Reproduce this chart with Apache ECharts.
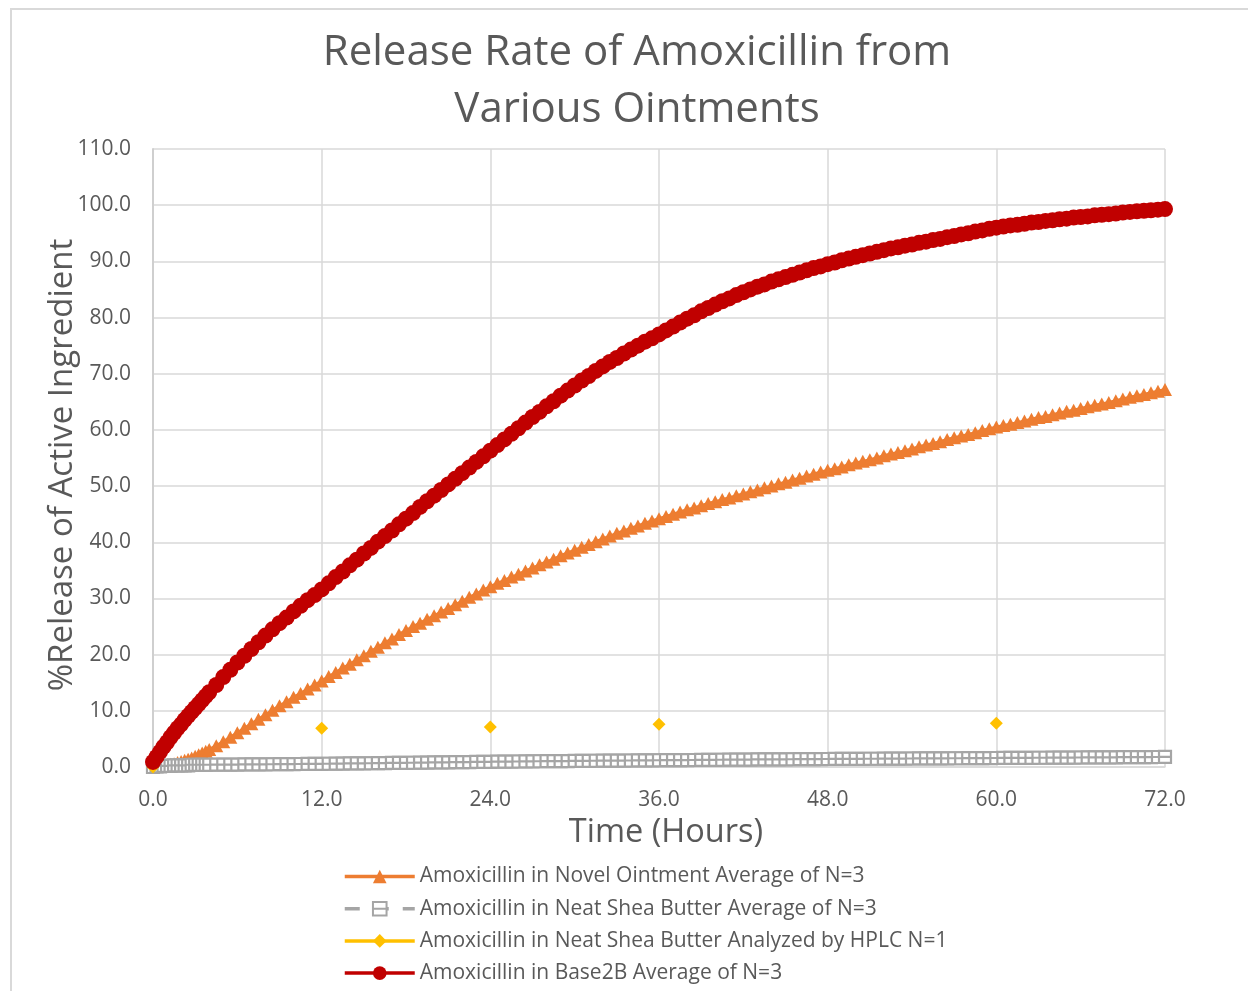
<!DOCTYPE html>
<html>
<head>
<meta charset="utf-8">
<title>Release Rate of Amoxicillin from Various Ointments</title>
<script src="https://cdn.jsdelivr.net/npm/echarts@6/dist/echarts.min.js"></script>
<style>
  html, body { margin: 0; padding: 0; background: #fff; }
  #chart { width: 1248px; height: 991px; }
</style>
</head>
<body>
<div id="chart"></div>
<script>
// Sampling times (hours): every 15 min for the first 4 h, then every 30 min
const hours = [
  0, 0.25, 0.5, 0.75, 1, 1.25, 1.5, 1.75, 2, 2.25, 2.5, 2.75, 3, 3.25, 3.5, 3.75, 4,
  4.5, 5, 5.5, 6, 6.5, 7, 7.5, 8, 8.5, 9, 9.5, 10, 10.5, 11, 11.5, 12,
  12.5, 13, 13.5, 14, 14.5, 15, 15.5, 16, 16.5, 17, 17.5, 18, 18.5, 19, 19.5, 20,
  20.5, 21, 21.5, 22, 22.5, 23, 23.5, 24,
  24.5, 25, 25.5, 26, 26.5, 27, 27.5, 28, 28.5, 29, 29.5, 30, 30.5, 31, 31.5, 32,
  32.5, 33, 33.5, 34, 34.5, 35, 35.5, 36,
  36.5, 37, 37.5, 38, 38.5, 39, 39.5, 40, 40.5, 41, 41.5, 42, 42.5, 43, 43.5, 44,
  44.5, 45, 45.5, 46, 46.5, 47, 47.5, 48,
  48.5, 49, 49.5, 50, 50.5, 51, 51.5, 52, 52.5, 53, 53.5, 54, 54.5, 55, 55.5, 56,
  56.5, 57, 57.5, 58, 58.5, 59, 59.5, 60,
  60.5, 61, 61.5, 62, 62.5, 63, 63.5, 64, 64.5, 65, 65.5, 66, 66.5, 67, 67.5, 68,
  68.5, 69, 69.5, 70, 70.5, 71, 71.5, 72
];

// % released, Novel Ointment (average of N=3)
const novelOintment = [
  0.0, 0.1, 0.2, 0.3, 0.4, 0.5, 0.6, 0.8, 1.0, 1.2, 1.4, 1.6, 1.9, 2.2, 2.5, 2.8, 3.1,
  3.8, 4.5, 5.3, 6.1, 6.9, 7.7, 8.5, 9.3, 10.1, 10.9, 11.6, 12.4, 13.1, 13.9, 14.6, 15.3,
  16.1, 16.8, 17.6, 18.3, 19.1, 19.8, 20.6, 21.3, 22.1, 22.8, 23.6, 24.3, 25.0, 25.6, 26.3, 26.9,
  27.6, 28.2, 28.9, 29.5, 30.2, 30.8, 31.5, 32.1,
  32.7, 33.2, 33.8, 34.3, 34.9, 35.4, 36.0, 36.5, 37.0, 37.6, 38.1, 38.6, 39.1, 39.6, 40.1, 40.6,
  41.1, 41.6, 42.0, 42.5, 42.9, 43.4, 43.8, 44.2,
  44.6, 45.0, 45.4, 45.8, 46.1, 46.5, 46.9, 47.2, 47.6, 47.9, 48.3, 48.6, 49.0, 49.3, 49.7, 50.0,
  50.4, 50.7, 51.1, 51.4, 51.8, 52.1, 52.5, 52.8,
  53.1, 53.4, 53.8, 54.1, 54.4, 54.7, 55.0, 55.4, 55.7, 56.0, 56.3, 56.6, 57.0, 57.3, 57.6, 57.9,
  58.3, 58.6, 58.9, 59.2, 59.5, 59.9, 60.2, 60.5,
  60.8, 61.0, 61.3, 61.6, 61.9, 62.2, 62.4, 62.7, 63.0, 63.3, 63.5, 63.8, 64.1, 64.4, 64.6, 64.9,
  65.2, 65.5, 65.8, 66.1, 66.3, 66.6, 66.9, 67.2
];

// % released, Neat Shea Butter (average of N=3)
const sheaButter = [
  0.0, 0.1, 0.1, 0.2, 0.2, 0.2, 0.3, 0.3, 0.3, 0.3, 0.3, 0.4, 0.4, 0.4, 0.4, 0.4, 0.4,
  0.41, 0.42, 0.43, 0.44, 0.45, 0.46, 0.47, 0.48, 0.49, 0.50, 0.51, 0.52, 0.53, 0.54, 0.55, 0.56,
  0.58, 0.60, 0.61, 0.63, 0.64, 0.66, 0.67, 0.69, 0.70, 0.72, 0.73, 0.75, 0.76, 0.78, 0.79, 0.81,
  0.82, 0.84, 0.85, 0.87, 0.88, 0.90, 0.91, 0.93,
  0.94, 0.95, 0.97, 0.98, 0.99, 1.00, 1.02, 1.03, 1.04, 1.05, 1.06, 1.08, 1.09, 1.10, 1.11, 1.12,
  1.13, 1.14, 1.15, 1.16, 1.17, 1.18, 1.19, 1.20,
  1.21, 1.22, 1.23, 1.24, 1.25, 1.26, 1.27, 1.28, 1.29, 1.30, 1.31, 1.32, 1.33, 1.34, 1.35, 1.35,
  1.36, 1.37, 1.38, 1.39, 1.40, 1.40, 1.41, 1.42,
  1.43, 1.44, 1.44, 1.45, 1.46, 1.47, 1.47, 1.48, 1.49, 1.50, 1.50, 1.51, 1.52, 1.53, 1.53, 1.54,
  1.55, 1.56, 1.56, 1.57, 1.58, 1.59, 1.59, 1.60,
  1.61, 1.62, 1.62, 1.63, 1.64, 1.65, 1.65, 1.66, 1.67, 1.68, 1.68, 1.69, 1.70, 1.71, 1.71, 1.72,
  1.73, 1.74, 1.74, 1.75, 1.76, 1.77, 1.78, 1.79
];

// % released, Base2B (average of N=3)
const base2B = [
  0.9, 1.8, 2.7, 3.6, 4.4, 5.3, 6.1, 6.9, 7.6, 8.4, 9.1, 9.8, 10.5, 11.2, 11.9, 12.6, 13.3,
  14.6, 16.0, 17.3, 18.6, 19.8, 21.0, 22.2, 23.4, 24.5, 25.6, 26.6, 27.7, 28.7, 29.7, 30.6, 31.6,
  32.7, 33.8, 34.8, 35.9, 36.9, 38.0, 39.0, 40.1, 41.1, 42.1, 43.2, 44.2, 45.2, 46.3, 47.3, 48.3,
  49.3, 50.3, 51.3, 52.3, 53.3, 54.3, 55.3, 56.3,
  57.3, 58.3, 59.3, 60.3, 61.3, 62.3, 63.2, 64.2, 65.1, 66.1, 67.0, 67.9, 68.8, 69.6, 70.5, 71.3,
  72.1, 72.8, 73.6, 74.3, 75.0, 75.7, 76.3, 77.0,
  77.7, 78.4, 79.1, 79.8, 80.4, 81.1, 81.7, 82.3, 82.9, 83.4, 84.0, 84.5, 85.0, 85.5, 85.9, 86.4,
  86.8, 87.2, 87.6, 88.0, 88.4, 88.8, 89.1, 89.5,
  89.8, 90.2, 90.5, 90.8, 91.1, 91.4, 91.7, 92.0, 92.3, 92.5, 92.8, 93.0, 93.3, 93.5, 93.8, 94.0,
  94.3, 94.5, 94.8, 95.0, 95.3, 95.5, 95.8, 96.0,
  96.2, 96.4, 96.5, 96.7, 96.9, 97.0, 97.2, 97.3, 97.5, 97.6, 97.8, 97.9, 98.0, 98.2, 98.3, 98.4,
  98.5, 98.7, 98.8, 98.9, 99.0, 99.1, 99.2, 99.3
];

// Neat Shea Butter checked by HPLC (N=1), sparse sampling
const hplcHours = [0, 12, 24, 36, 60];
const hplcValues = [0.0, 6.9, 7.1, 7.6, 7.8];

// Axis ticks
const xTicks = { min: 0, max: 72, step: 12 };
const yTicks = { min: 0, max: 110, step: 10 };

const seriesNames = [
  'Amoxicillin in Novel Ointment Average of N=3',
  'Amoxicillin in Neat Shea Butter Average of N=3',
  'Amoxicillin in Neat Shea Butter Analyzed by HPLC N=1',
  'Amoxicillin in Base2B Average of N=3'
];

const FONT = '"Open Sans", Lato, sans-serif';
const TEXT = '#595959';
const GRID = '#d9d9d9';

const pairs = (xs, ys) => xs.map((x, i) => [x, ys[i]]);

// HPLC readings are isolated points: break the line between them
const hplcData = [];
hplcHours.forEach((h, i) => {
  if (i > 0) hplcData.push([h, null]);
  hplcData.push([h, hplcValues[i]]);
});

// hollow square crossed by a bar
const squareWithBar = 'path://M0,0L10,0L10,10L0,10Z M0,5L10,5';

const chart = echarts.init(document.getElementById('chart'), null, { renderer: 'canvas' });

chart.setOption({
  animation: false,
  backgroundColor: '#ffffff',
  textStyle: { fontFamily: FONT, color: TEXT },
  title: {
    text: 'Release Rate of Amoxicillin from\nVarious Ointments',
    left: 632,
    top: 20,
    textAlign: 'center',
    textStyle: {
      fontFamily: FONT,
      fontSize: 42,
      fontWeight: 'normal',
      color: TEXT,
      lineHeight: 57
    }
  },
  graphic: [{
    type: 'rect',
    shape: { x: 11, y: 9, width: 1260, height: 1010 },
    style: { fill: 'none', stroke: GRID, lineWidth: 2 },
    silent: true,
    z: -1
  }],
  grid: { left: 153, top: 149, width: 1012, height: 618 },
  legend: {
    orient: 'vertical',
    left: 338,
    top: 861,
    itemWidth: 70,
    itemHeight: 17,
    itemGap: 11.2,
    lineStyle: { width: 3.5 },
    textStyle: { fontFamily: FONT, fontSize: 21, color: TEXT },
    data: seriesNames
  },
  xAxis: {
    type: 'value',
    min: xTicks.min,
    max: xTicks.max,
    interval: xTicks.step,
    name: 'Time (Hours)',
    nameLocation: 'middle',
    nameGap: 48,
    nameTextStyle: { fontFamily: FONT, fontSize: 32.5, color: TEXT, padding: [0, 0, 0, 14] },
    axisLine: { show: true, lineStyle: { color: GRID, width: 1.5 } },
    axisTick: { show: false },
    axisLabel: {
      margin: 23,
      fontFamily: FONT, fontSize: 21, color: TEXT,
      formatter: v => v.toFixed(1)
    },
    splitLine: { show: true, lineStyle: { color: GRID, width: 1.5 } }
  },
  yAxis: {
    type: 'value',
    min: yTicks.min,
    max: yTicks.max,
    interval: yTicks.step,
    name: '%Release of Active Ingredient',
    nameLocation: 'middle',
    nameGap: 74,
    nameMoveOverlap: false,
    nameTextStyle: { fontFamily: FONT, fontSize: 33, color: TEXT, padding: [0, 14, 0, 0] },
    axisLine: { show: true, lineStyle: { color: '#cfcfcf', width: 2 } },
    axisTick: { show: false },
    axisLabel: {
      margin: 22,
      fontFamily: FONT, fontSize: 21, color: TEXT,
      formatter: v => v.toFixed(1)
    },
    splitLine: { show: true, lineStyle: { color: GRID, width: 1.5 } }
  },
  series: [
    {
      name: seriesNames[0],
      type: 'line',
      data: pairs(hours, novelOintment),
      symbol: 'triangle',
      symbolSize: [14, 13],
      showAllSymbol: true,
      lineStyle: { color: '#ED7D31', width: 3 },
      itemStyle: { color: '#ED7D31', borderColor: '#ED7D31', borderWidth: 0 },
      z: 2
    },
    {
      name: seriesNames[1],
      type: 'line',
      data: pairs(hours, sheaButter),
      symbol: squareWithBar,
      symbolSize: 12,
      showAllSymbol: true,
      lineStyle: { color: '#A5A5A5', width: 3, type: [15, 14] },
      itemStyle: { color: '#ffffff', borderColor: '#A5A5A5', borderWidth: 2.2 },
      z: 3
    },
    {
      name: seriesNames[2],
      type: 'line',
      data: hplcData,
      connectNulls: false,
      symbol: 'diamond',
      symbolSize: 13,
      showAllSymbol: true,
      lineStyle: { color: '#FFC000', width: 3 },
      itemStyle: { color: '#FFC000', borderWidth: 0 },
      z: 4
    },
    {
      name: seriesNames[3],
      type: 'line',
      data: pairs(hours, base2B),
      symbol: 'circle',
      symbolSize: 16,
      showAllSymbol: true,
      lineStyle: { color: '#C00000', width: 4 },
      itemStyle: { color: '#C00000', borderWidth: 0 },
      z: 5
    }
  ]
});
</script>
</body>
</html>
